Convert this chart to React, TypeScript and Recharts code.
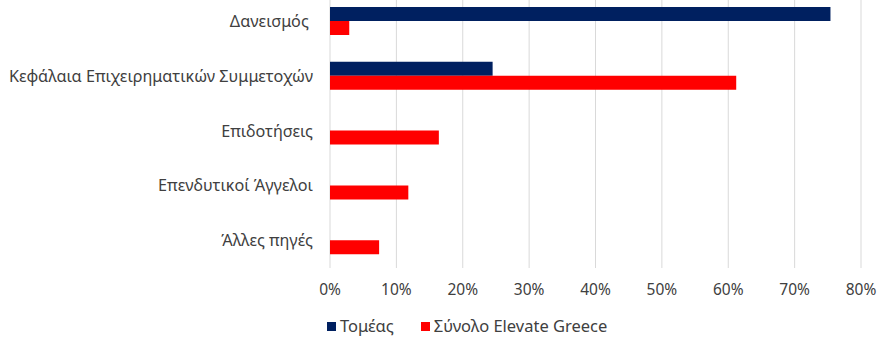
import React from 'react';
import { BarChart, Bar, XAxis, YAxis, CartesianGrid, Legend } from 'recharts';

const categories = [
  'Δανεισμός ',
  'Κεφάλαια Επιχειρηματικών Συμμετοχών',
  'Επιδοτήσεις',
  'Επενδυτικοί Άγγελοι',
  'Άλλες πηγές',
];
const sectorValues = [75.4, 24.5, 0, 0, 0];
const elevateValues = [2.9, 61.2, 16.4, 11.8, 7.4];
const xTicks = [0, 10, 20, 30, 40, 50, 60, 70, 80];
const seriesNames = ['Τομέας', 'Σύνολο Elevate Greece'];
const seriesColors = ['#002060', '#FF0000'];

const data = categories.map((name, i) => ({
  name,
  sector: sectorValues[i],
  elevate: elevateValues[i],
}));

const FONT = '"Noto Sans", sans-serif';
const TEXT = '#404040';

const CategoryTick = (props: any) => {
  const { x, y, payload } = props;
  return (
    <text
      x={x}
      y={y}
      dy="0.35em"
      textAnchor="end"
      fill={TEXT}
      fontSize={16.2}
      fontFamily={FONT}
      style={{ whiteSpace: 'pre' }}
    >
      {payload.value}
    </text>
  );
};

const renderLegend = () => (
  <div
    style={{
      display: 'flex',
      alignItems: 'center',
      fontFamily: FONT,
      fontSize: 16.5,
      color: TEXT,
      lineHeight: '20px',
      whiteSpace: 'nowrap',
    }}
  >
    {seriesNames.map((n, i) => (
      <span key={n} style={{ display: 'flex', alignItems: 'center', marginRight: 27 }}>
        <span
          style={{
            display: 'inline-block',
            width: 9,
            height: 9,
            background: seriesColors[i],
            marginRight: 4,
          }}
        />
        {n}
      </span>
    ))}
  </div>
);

export default function App() {
  return (
    <div
      style={{
        position: 'absolute',
        left: 0,
        top: 0,
        width: 879,
        height: 343,
        overflow: 'hidden',
        background: '#fff',
      }}
    >
      <div style={{ position: 'absolute', left: 0, top: -6 }}>
        <BarChart
          width={879}
          height={349}
          data={data}
          layout="vertical"
          margin={{ top: 0, right: 18, bottom: 45, left: 0 }}
          barGap={0}
          style={{ fontFamily: FONT }}
        >
          <CartesianGrid horizontal={false} stroke="#d9d9d9" />
          <XAxis
            type="number"
            domain={[0, 80]}
            ticks={xTicks}
            tickFormatter={(v: number) => `${v}%`}
            axisLine={false}
            tickLine={false}
            tickMargin={10}
            height={30}
            tick={{ fill: TEXT, fontSize: 15.5, fontFamily: FONT }}
            interval={0}
          />
          <YAxis
            type="category"
            dataKey="name"
            width={330}
            axisLine={false}
            tickLine={false}
            tickMargin={0}
            tick={(p: any) => <CategoryTick {...p} x={313} />}
            interval={0}
          />
          <Legend
            layout="horizontal"
            verticalAlign="middle"
            align="center"
            content={renderLegend}
            wrapperStyle={{ left: 327, top: 322, width: 400 }}
          />
          <Bar
            dataKey="sector"
            name={seriesNames[0]}
            fill={seriesColors[0]}
            barSize={14}
            isAnimationActive={false}
          />
          <Bar
            dataKey="elevate"
            name={seriesNames[1]}
            fill={seriesColors[1]}
            barSize={14}
            isAnimationActive={false}
          />
        </BarChart>
      </div>
    </div>
  );
}
